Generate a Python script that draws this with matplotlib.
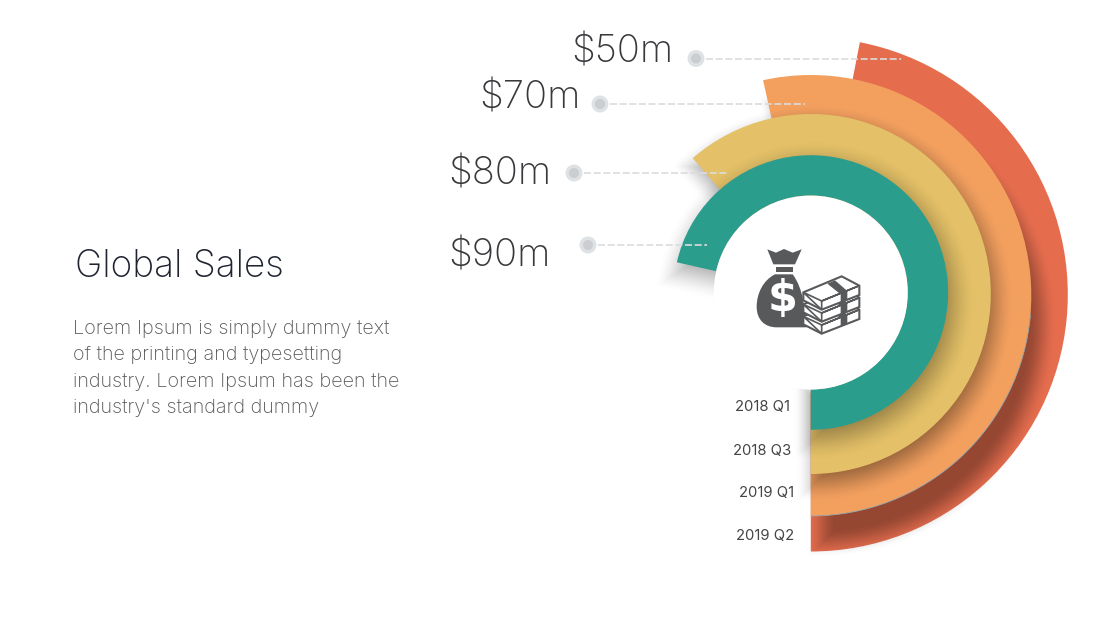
import numpy as np
import matplotlib
matplotlib.use('Agg')
import matplotlib.pyplot as plt
from matplotlib.patches import Wedge, Circle, Polygon, PathPatch
from matplotlib.path import Path

plt.rcParams['font.family'] = ['Inter', 'DejaVu Sans']

# rings, outermost first
quarters = ['2019 Q2', '2019 Q1', '2018 Q3', '2018 Q1']
values = ['$50m', '$70m', '$80m', '$90m']
sweeps = [169.0, 192.5, 221.0, 257.3]
ring_colors = ['#e56d4e', '#f3a05f', '#e4c168', '#2a9d8d']

# pixel geometry of the rings
radii = [257.0, 220.5, 180.0, 137.3]
center_y = [294.5, 295.5, 294.0, 292.5]
center_x = 810.8
hole_r = 97.0

# shadow each ring throws on what lies below: dx, dy, blur, strength
shadows = [None, (11, 27, 15, 0.35), (4, 9, 20, 0.40), (4, 8, 24, 0.38)]

dot_xy = [(696, 58.5), (600, 104), (574, 173), (588, 245)]
line_end = [901, 805, 729, 707]
value_pos = [(571, 63), (479, 108), (448, 185), (448, 266)]
quarter_pos = [(794, 536), (794, 493), (791, 451), (790, 407)]

body_lines = ['Lorem Ipsum is simply dummy text',
              'of the printing and typesetting',
              'industry. Lorem Ipsum has been the',
              "industry's standard dummy"]
body_y = [329, 355, 382, 408]

H = 619
W = 1100

fig = plt.figure(figsize=(11, 6.19), dpi=100, facecolor='white')
ax = fig.add_axes([0, 0, 1, 1])

gx, gy = np.meshgrid(np.arange(W) + 0.5, np.arange(H) + 0.5)


def ring(i, **kw):
    return Wedge((center_x, H - center_y[i]), radii[i], -90, -90 + sweeps[i],
                 width=radii[i] - hole_r, linewidth=0, **kw)


def shadow(i, zorder):
    dx, dy, blur, strength = shadows[i]
    x = gx - (center_x + dx)
    y = gy - (H - center_y[i] - dy)
    r = np.hypot(x, y)
    # angle past the start of the sweep, going counterclockwise from straight down
    ang = np.degrees(np.arctan2(y, x) + np.pi/2) % 360
    mid = sweeps[i]/2.0
    off = np.abs((ang - mid + 180) % 360 - 180) - mid
    d = np.maximum.reduce([r - radii[i], hole_r - r, np.radians(off)*r])
    t = np.clip((blur - d)/(2.0*blur), 0, 1)
    rgba = np.zeros((H, W, 4))
    rgba[..., 3] = strength*t*t*(3 - 2*t)
    ax.imshow(rgba, extent=(0, W, 0, H), origin='lower', aspect='auto', interpolation='nearest', zorder=zorder)


z = 1
for i in range(4):
    if shadows[i]:
        shadow(i, z)
    ax.add_patch(ring(i, facecolor=ring_colors[i], zorder=z + 0.5))
    z += 1

ax.set_xlim(0, W)
ax.set_ylim(0, H)
ax.axis('off')

# thin grey edge between the orange and red rings
ax.add_patch(Wedge((center_x, H - center_y[1]), radii[1] + 0.4, -90, -5, width=0.9, facecolor='#9aa7ab',
                   linewidth=0, zorder=2.6))

ax.add_patch(Circle((center_x, H - 292.5), hole_r, facecolor='white', linewidth=0, zorder=6))


# icon, coordinates as read in a 3x crop of the picture
def ic(x, y):
    return (740 + x/3.0, H - (235 + y/3.0))


dark = '#58595b'
ax.add_patch(Polygon([ic(*p) for p in [(82, 43), (108, 53), (132, 42), (158, 53), (185, 43), (165, 88), (100, 88)]],
                     facecolor=dark, linewidth=0, zorder=7))
ax.add_patch(Polygon([ic(*p) for p in [(108, 95), (158, 95), (158, 112), (108, 112)]], facecolor=dark, linewidth=0, zorder=7))
verts = [(105, 118), (70, 135), (50, 175), (50, 215), (50, 255), (75, 277), (110, 277), (200, 277),
         (195, 225), (190, 160), (158, 118), (105, 118)]
codes = [Path.MOVETO, Path.CURVE4, Path.CURVE4, Path.CURVE4, Path.CURVE4, Path.CURVE4, Path.CURVE4, Path.LINETO,
         Path.CURVE4, Path.CURVE4, Path.CURVE4, Path.CLOSEPOLY]
ax.add_patch(PathPatch(Path([ic(*v) for v in verts], codes), facecolor=dark, linewidth=0, zorder=7))
ax.text(*ic(127, 192), '$', color='white', fontsize=31, fontweight='bold', family='DejaVu Sans',
        ha='center', va='center', zorder=8)
for off in [72, 36, 0]:
    ax.add_patch(Polygon([ic(x, y + off) for x, y in [(190, 172), (190, 196), (245, 224), (358, 180), (358, 152),
                                                      (305, 124)]],
                         facecolor='white', edgecolor=dark, linewidth=1.5, zorder=9))
    ax.add_patch(Polygon([ic(x, y + off) for x, y in [(190, 172), (245, 198), (358, 152), (245, 198), (245, 224)]],
                         facecolor='none', edgecolor=dark, linewidth=1.2, zorder=9))
    ax.add_patch(Polygon([ic(x, y + off) for x, y in [(262, 146), (285, 136), (322, 168), (322, 194), (302, 202), (302, 178)]],
                         facecolor=dark, linewidth=0, zorder=9))

# value labels with dots and dashed leaders
for i in range(4):
    x, y = dot_xy[i]
    ax.add_patch(Circle((x, H - y), 8.5, facecolor='#dee2e4', linewidth=0, zorder=10))
    ax.add_patch(Circle((x, H - y), 5.0, facecolor='#cbcdd0', linewidth=0, zorder=11))
    ax.plot([x + 10, line_end[i]], [H - y, H - y], color='#dcdcdc', linewidth=1.2,
            linestyle=(0, (4.2, 1.6)), zorder=10)
    ax.text(value_pos[i][0], H - value_pos[i][1], values[i], fontsize=27.5, color='#38393c', fontweight='light',
            ha='left', va='baseline', zorder=10)
    ax.text(quarter_pos[i][0], H - quarter_pos[i][1], quarters[i], fontsize=10.7, color='#444446',
            ha='right', va='center', zorder=10)

ax.text(75, H - 277, 'Global Sales', fontsize=26.6, color='#1f2430', fontweight='light', ha='left', va='baseline')
for line, y in zip(body_lines, body_y):
    ax.text(73, H - y, line, fontsize=14.3, color='#58585a', fontweight='light', ha='left', va='center')

fig.savefig('out.png', dpi=100, facecolor='white')
